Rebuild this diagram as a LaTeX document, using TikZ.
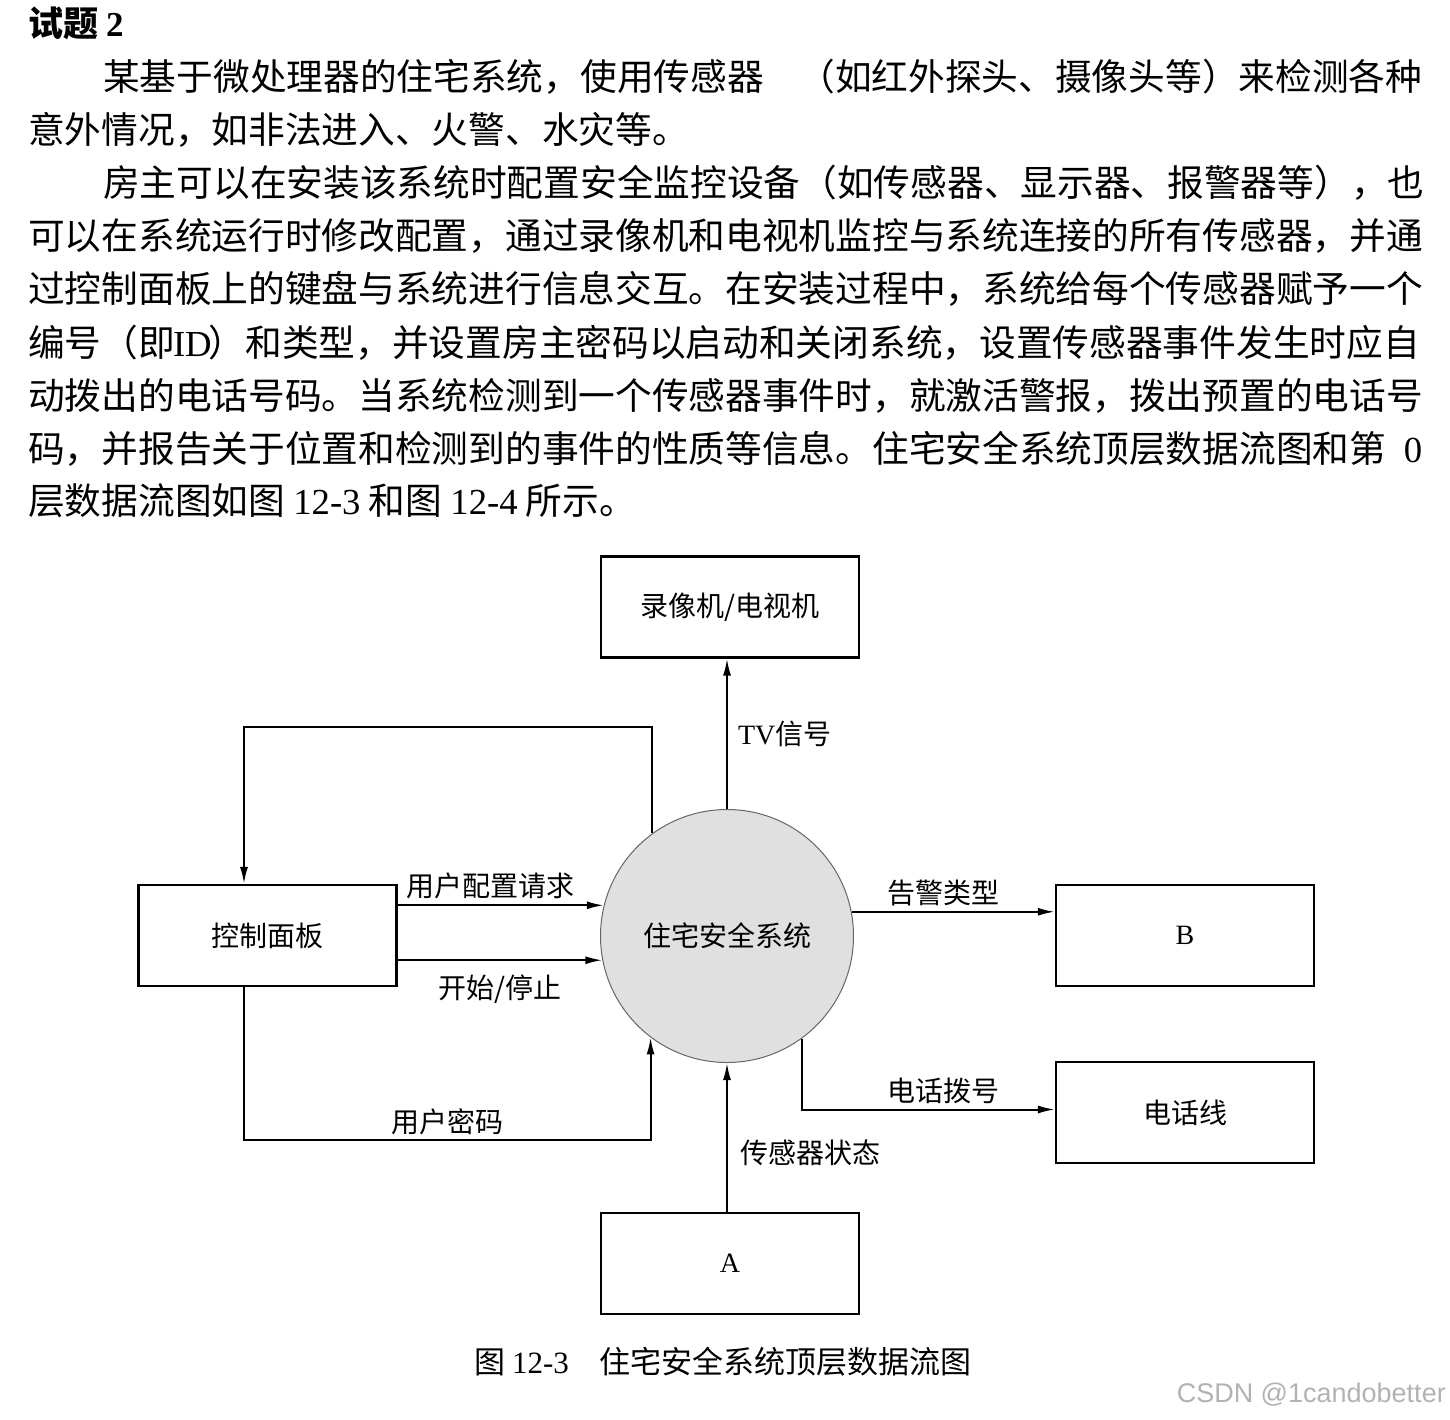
\documentclass[tikz,border=0pt]{standalone}
\usepackage{fontspec}
\setmainfont{Noto Sans CJK SC}
\newfontfamily\lat{Liberation Serif}
\newfontfamily\wmfont{Liberation Sans}
\usetikzlibrary{arrows.meta,positioning,calc}

\begin{document}
\begin{tikzpicture}[x=1pt,y=-1pt,
    box/.style={draw, line width=2.2pt, minimum width=258pt, minimum height=101pt, font=\fontsize{28}{30}\selectfont},
    proc/.style={circle, draw=black!60, line width=1pt, fill=black!12, minimum size=253pt, inner sep=0pt, font=\fontsize{28}{30}\selectfont},
    flow/.style={line width=2pt, -{Latex[length=17pt,width=8pt]}},
    lbl/.style={font=\fontsize{28}{30}\selectfont, inner sep=2pt},
    txt/.style={anchor=base west, inner sep=0pt, font=\fontsize{36.7}{40}\selectfont}]
  \useasboundingbox (0,0) rectangle (1450,1420);

  % question text
  \node[anchor=base west, inner sep=0pt, font=\fontsize{35}{37}\selectfont\bfseries] (title) at (28,37) {试题 {\lat\bfseries 2}};
  \node[txt] (l1) at (103,91) {\makebox[1319pt][s]{某基于微处理器的住宅系统，使用传感器\hspace{10pt plus 1fil}（如红外探头、摄像头等）来检测各种}};
  \node[txt] (l2) at (28,144) {意外情况，如非法进入、火警、水灾等。};
  \node[txt] (l3) at (103,197) {房主可以在安装该系统时配置安全监控设备（如传感器、显示器、报警器等），也};
  \node[txt] (l4) at (28,250) {可以在系统运行时修改配置，通过录像机和电视机监控与系统连接的所有传感器，并通};
  \node[txt] (l5) at (28,303) {过控制面板上的键盘与系统进行信息交互。在安装过程中，系统给每个传感器赋予一个};
  \node[txt] (l6) at (28,356) {编号（即\kern-2pt{\lat ID}\kern-3pt）和类型，并设置房主密码以启动和关闭系统，设置传感器事件发生时应自};
  \node[txt] (l7) at (28,409) {动拨出的电话号码。当系统检测到一个传感器事件时，就激活警报，拨出预置的电话号};
  \node[txt] (l8) at (28,462) {\makebox[1394pt][s]{码，并报告关于位置和检测到的事件的性质等信息。住宅安全系统顶层数据流图和第 {\lat 0}}};
  \node[txt] (l9) at (28,514) {层数据流图如图 {\lat 12-3} 和图 {\lat 12-4} 所示。};

  % data flow diagram
  \node[proc] (sys) at (727,936) {住宅安全系统};
  \node[box] (tv) at (730,607) {录像机/电视机};
  \node[box] (panel) at (267.5,935.5) {控制面板};
  \node[box] (B) at (1185,935.5) {{\lat B}};
  \node[box] (phone) at (1185,1112.5) {电话线};
  \node[box] (A) at (730,1263.5) {{\lat A}};

  \coordinate (loop) at (447,727);
  \coordinate (pw) at (447,1140);

  \draw[flow] (sys.north) -- node[lbl, right=8pt]{{\lat TV}信号} (sys.north |- tv.south);
  \draw[flow] (sys.126.9) |- (loop) -| ([xshift=-23.5pt]panel.north);
  \draw[flow] (panel.east |- sys.166.7) -- node[lbl, above=3pt, pos=0.45]{用户配置请求} (sys.166.7);
  \draw[flow] (panel.east |- sys.191.4) -- node[lbl, below=12pt]{开始/停止} (sys.191.4);
  \draw[flow] ([xshift=-23.5pt]panel.south) |- (pw) node[lbl, above=2pt]{用户密码} -| (sys.233.1);
  \draw[flow] (sys.11.9) -- node[lbl, above=3pt, pos=0.45]{告警类型} (sys.11.9 -| B.west);
  \draw[flow] (sys.306.9) |- node[lbl, above=3pt, pos=0.78]{电话拨号} ([yshift=3pt]phone.west);
  \draw[flow] (A.north -| sys.south) -- node[lbl, right=10pt, pos=0.4]{传感器状态} (sys.south);

  \node[anchor=west, inner sep=0pt, font=\fontsize{31}{33}\selectfont] (cap) at (474,1362) {图 {\lat 12-3}\hspace{1em}住宅安全系统顶层数据流图};
  \node[anchor=east, inner sep=0pt, text=black!30, font=\wmfont\fontsize{27}{29}\selectfont] (wm) at (1446,1395) {CSDN @1candobetter};
\end{tikzpicture}
\end{document}
